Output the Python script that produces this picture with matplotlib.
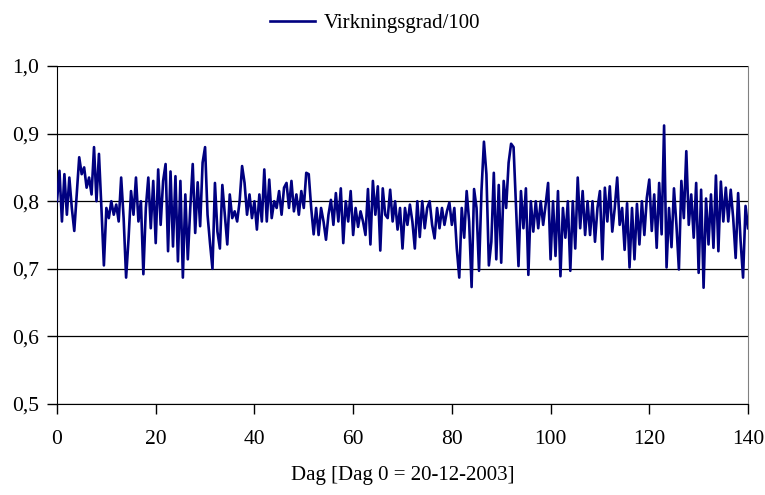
import numpy as np
import matplotlib
matplotlib.use("Agg")
import matplotlib.pyplot as plt
from matplotlib.ticker import FuncFormatter

# efficiency / 100, every half day (day 0 .. 140)
virkningsgrad = [
    .800, .845, .770, .840, .780, .835, .790, .756, .810, .865,
    .840, .850, .820, .835, .810, .880, .800, .870, .790, .705,
    .790, .775, .800, .780, .795, .770, .835, .775, .687, .745,
    .815, .780, .835, .770, .800, .692, .790, .835, .760, .830,
    .738, .847, .765, .830, .855, .726, .844, .733, .837, .711,
    .830, .687, .810, .714, .790, .855, .753, .828, .763, .857,
    .880, .780, .738, .700, .827, .755, .730, .824, .780, .736,
    .810, .775, .785, .770, .800, .852, .827, .780, .810, .775,
    .800, .758, .810, .770, .847, .770, .832, .775, .800, .790,
    .815, .780, .820, .827, .790, .830, .785, .810, .780, .815,
    .790, .842, .840, .790, .751, .790, .750, .790, .770, .743,
    .780, .802, .765, .812, .770, .819, .738, .800, .770, .815,
    .750, .790, .762, .785, .770, .750, .818, .736, .830, .780,
    .822, .727, .819, .780, .775, .817, .770, .800, .758, .790,
    .730, .790, .765, .795, .770, .730, .800, .747, .800, .760,
    .790, .800, .765, .745, .790, .760, .790, .765, .785, .798,
    .765, .790, .730, .687, .790, .746, .815, .770, .673, .818,
    .790, .697, .815, .888, .840, .705, .740, .842, .714, .824,
    .709, .830, .790, .857, .885, .880, .790, .704, .815, .760,
    .819, .691, .800, .755, .800, .760, .800, .765, .795, .827,
    .714, .800, .719, .815, .689, .790, .746, .800, .697, .800,
    .730, .835, .760, .815, .750, .800, .750, .800, .740, .790,
    .815, .714, .820, .770, .822, .755, .790, .835, .765, .790,
    .728, .797, .702, .790, .714, .796, .736, .800, .750, .805,
    .832, .756, .810, .731, .827, .751, .912, .702, .790, .732,
    .819, .765, .699, .830, .775, .874, .765, .810, .746, .827,
    .694, .817, .672, .804, .736, .810, .731, .838, .726, .829,
    .770, .820, .770, .817, .775, .716, .812, .741, .687, .793,
    .760,
]
dag = np.arange(len(virkningsgrad)) * 0.5

x_ticks = [0, 20, 40, 60, 80, 100, 120, 140]
y_ticks = [0.5, 0.6, 0.7, 0.8, 0.9, 1.0]

plt.rcParams['font.family'] = ['Liberation Serif', 'DejaVu Serif']

fig = plt.figure(figsize=(7.65, 4.95), dpi=100)
ax = fig.add_axes([57 / 765, 1 - 404 / 495, (748 - 57) / 765, (404 - 66) / 495])

ax.plot(dag, virkningsgrad, color='#000080', linewidth=1.9,
        label='Virkningsgrad/100', zorder=3)

ax.set_xlim(0, 140)
ax.set_ylim(0.5, 1.0)
ax.set_xticks(x_ticks)
ax.set_yticks(y_ticks)
ax.yaxis.set_major_formatter(FuncFormatter(lambda v, p: f"{v:.1f}".replace('.', ',')))
ax.tick_params(axis='both', direction='out', length=7, width=1, labelsize=15.5,
               colors='black')
ax.tick_params(axis='x', pad=12)
ax.tick_params(axis='y', pad=6)
ax.grid(axis='y', color='black', linewidth=0.9)
ax.set_axisbelow(True)

ax.spines['left'].set_color('black')
ax.spines['bottom'].set_color('black')
ax.spines['top'].set_visible(False)
ax.spines['right'].set_color('#808080')

ax.set_xlabel('Dag [Dag 0 = 20-12-2003]', fontsize=15, labelpad=12)

fig.legend(loc='upper center', bbox_to_anchor=(0.49, 1.01), frameon=False,
           fontsize=15, handlelength=2.2, handletextpad=0.4)

fig.savefig('out.png', dpi=100)
